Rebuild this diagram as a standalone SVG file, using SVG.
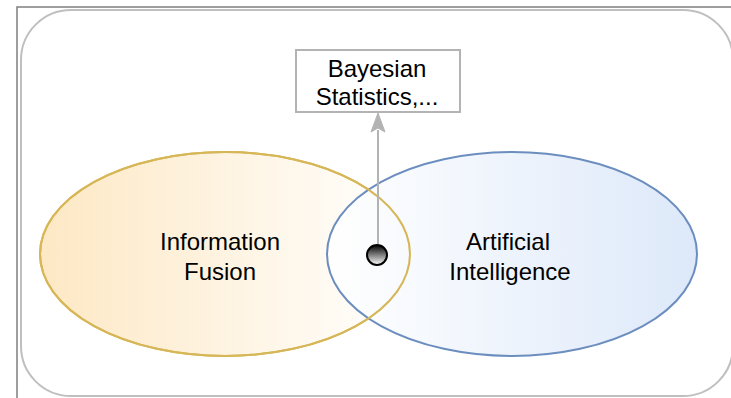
<svg xmlns="http://www.w3.org/2000/svg" width="731" height="398" viewBox="0 0 731 398">
  <style>
    .lbl { font-family: "Liberation Sans", Arial, sans-serif; font-size: 24px; fill: #000; text-anchor: middle; }
    .fusion-edge { fill: none; stroke: #d6b656; stroke-width: 2; }
    .gray { stroke: #b3b3b3; stroke-width: 2; }
  </style>
  <defs>
    <linearGradient id="gFusion" x1="0" y1="0" x2="1" y2="0">
      <stop offset="0" stop-color="#fde8c4"/>
      <stop offset="1" stop-color="#ffffff"/>
    </linearGradient>
    <linearGradient id="gAI" x1="0" y1="0" x2="1" y2="0">
      <stop offset="0" stop-color="#ffffff"/>
      <stop offset="1" stop-color="#d9e6f9"/>
    </linearGradient>
    <linearGradient id="gDot" x1="0" y1="0" x2="0" y2="1">
      <stop offset="0" stop-color="#000000"/>
      <stop offset="1" stop-color="#ffffff"/>
    </linearGradient>
  </defs>

  <!-- outer frame -->
  <g id="frame">
    <path d="M17,398 V7 H731" fill="none" stroke="#7f7f7f" stroke-width="1.5"/>
    <rect x="21" y="10" width="712" height="386" rx="50" ry="50" fill="#ffffff" stroke="#bfbfbf" stroke-width="2"/>
  </g>

  <g id="information-fusion">
    <ellipse cx="225" cy="254" rx="185" ry="102" fill="url(#gFusion)" class="fusion-edge" style="fill:url(#gFusion)"/>
  </g>
  <g id="artificial-intelligence">
    <ellipse cx="512" cy="254" rx="185" ry="102" fill="url(#gAI)" fill-opacity="0.9" stroke="#6c8ebf" stroke-width="2"/>
  </g>
  <!-- yellow outline redrawn on top inside the overlap -->
  <ellipse cx="225" cy="254" rx="185" ry="102" class="fusion-edge"/>

  <text class="lbl" x="220" y="250">Information</text>
  <text class="lbl" x="220" y="280">Fusion</text>
  <text class="lbl" x="508" y="250">Artificial</text>
  <text class="lbl" x="510" y="280">Intelligence</text>

  <g id="bayesian-statistics">
    <rect x="296" y="50" width="164" height="62" fill="#ffffff" class="gray"/>
    <text class="lbl" x="377" y="77">Bayesian</text>
    <text class="lbl" x="377" y="105">Statistics,...</text>
  </g>

  <g id="connectors">
    <line x1="378" y1="244" x2="378" y2="130" class="gray"/>
    <path d="M378,113 L385,132 L378,128 L371,132 Z" fill="#b3b3b3" stroke="#b3b3b3" stroke-width="1"/>
  </g>

  <g id="junction">
    <circle cx="377" cy="255" r="10" fill="url(#gDot)" stroke="#000000" stroke-width="2"/>
  </g>
</svg>
